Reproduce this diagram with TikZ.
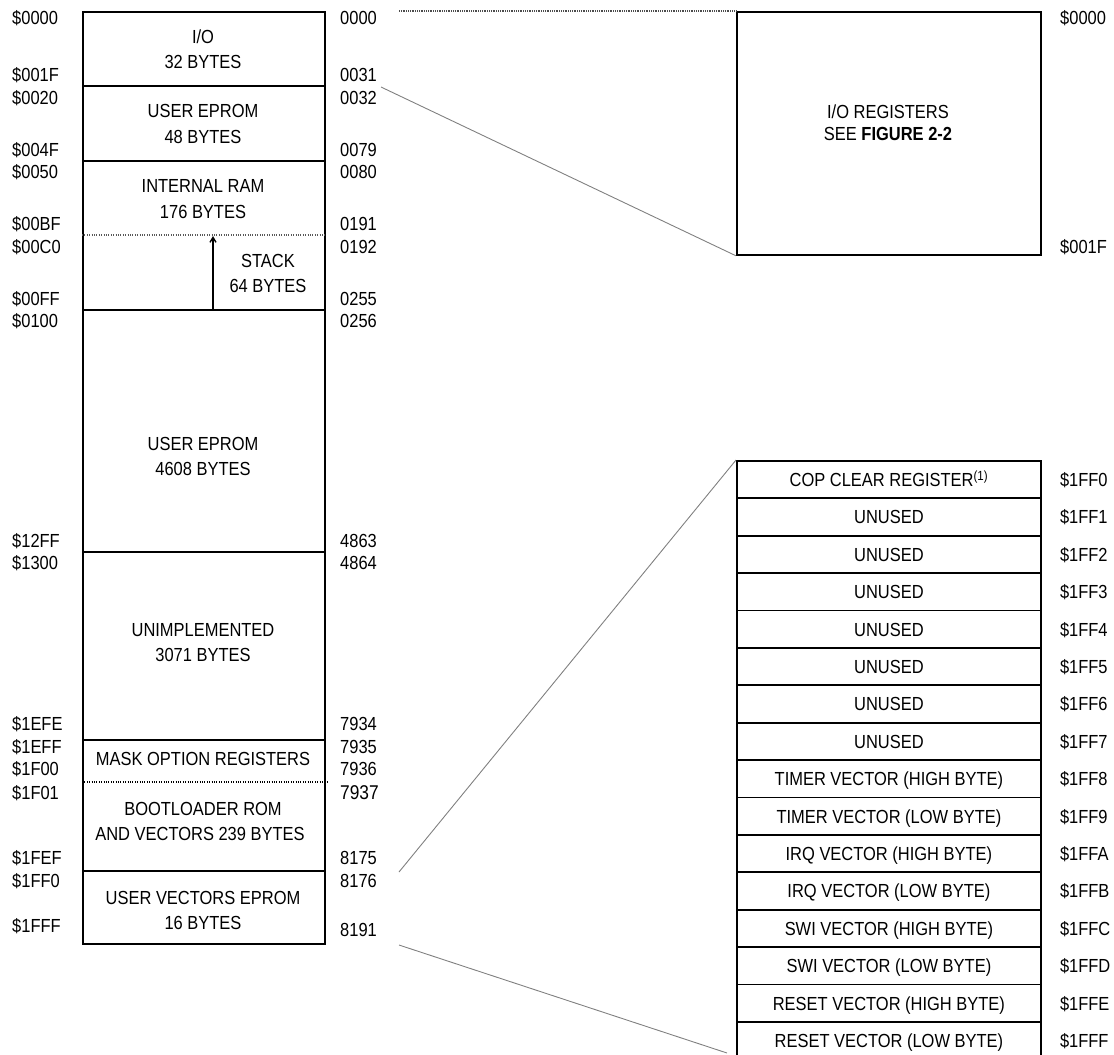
\documentclass[tikz,border=0pt]{standalone}
\usepackage{fontspec}
\setmainfont{Liberation Sans}[FakeStretch=0.87]
\usetikzlibrary{arrows.meta}
\begin{document}
\begin{tikzpicture}[x=1bp,y=-1bp,
  txt/.style={font=\fontsize{19}{22}\selectfont, inner sep=0pt, text height=13.6bp, text depth=0bp, anchor=center},
  lbl/.style={txt, anchor=west},
  frame/.style={draw=black, line width=1.8bp, inner sep=0pt, minimum width=#1, anchor=north west},
  divider/.style={draw=black, line width=1.8bp},
  dotdiv/.style={draw=gray!70!black, line width=1.6bp, dash pattern=on 1bp off 1.4bp},
  zoomline/.style={draw=gray, line width=0.9bp},
  rowbox/.style={draw=black, line width=1.8bp, inner sep=0pt, minimum width=304bp, minimum height=37.4bp, anchor=north west}
]
\useasboundingbox (0,0) rectangle (1114,1055);

% ---------------- left memory map ----------------
\node[frame=242bp, minimum height=932bp] (mem) at (82,11) {};
\foreach \yy in {86,161,310,552,740,871}
  \draw[divider] (mem.west |- 0,\yy) -- (mem.east |- 0,\yy);
\draw[dotdiv] (mem.west |- 0,235) -- (mem.east |- 0,235);
\draw[dotdiv, draw=black] (mem.west |- 0,782) -- ([xshift=2bp]mem.east |- 0,782);

% stack arrow
\coordinate (stackbase) at (213,310);
\coordinate (stacktop) at (213,236);
\draw[line width=1.4bp, -{Straight Barb[length=5bp,width=6bp]}] (stackbase) -- (stacktop);

% region texts
\node[txt] (t1) at (203,37) {I/O};
\node[txt] (t2) at (203,62) {32 BYTES};
\node[txt] (t3) at (203,111) {USER EPROM};
\node[txt] (t4) at (203,137) {48 BYTES};
\node[txt] (t5) at (203,186) {INTERNAL RAM};
\node[txt] (t6) at (203,212) {176 BYTES};
\node[txt] (t7) at (268,261) {STACK};
\node[txt] (t8) at (268,286) {64 BYTES};
\node[txt] (t9) at (203,444) {USER EPROM};
\node[txt] (t10) at (203,469) {4608 BYTES};
\node[txt] (t11) at (203,630) {UNIMPLEMENTED};
\node[txt] (t12) at (203,655) {3071 BYTES};
\node[txt] (t13) at (203,759) {MASK OPTION REGISTERS};
\node[txt] (t14) at (203,809) {BOOTLOADER ROM};
\node[txt] (t15) at (200,834) {AND VECTORS 239 BYTES};
\node[txt] (t16) at (203,898) {USER VECTORS EPROM};
\node[txt] (t17) at (203,923) {16 BYTES};

% left hex labels
\foreach \lab/\yy in {{\$0000}/18,{\$001F}/75,{\$0020}/98,{\$004F}/150,{\$0050}/172,{\$00BF}/224,{\$00C0}/247,{\$00FF}/299,{\$0100}/321,{\$12FF}/541,{\$1300}/563,{\$1EFE}/724,{\$1EFF}/747,{\$1F00}/769,{\$1F01}/793,{\$1FEF}/858,{\$1FF0}/881,{\$1FFF}/926}
  \node[lbl] at (12,\yy) {\lab};
% right decimal labels
\foreach \lab/\yy in {0000/18,0031/75,0032/98,0079/150,0080/172,0191/224,0192/247,0255/299,0256/321,4863/541,4864/563,7934/724,7935/747,7936/769,8175/858,8176/881,8191/930}
  \node[lbl] at (340,\yy) {\lab};
\node[lbl, font=\fontsize{20}{22}\selectfont] at (340,793) {7937};

% ---------------- I/O registers box ----------------
\node[frame=304bp, minimum height=243bp] (iobox) at (736,11) {};
\node[txt] (io1) at (888,112) {I/O REGISTERS};
\node[txt] (io2) at (888,134) {SEE \textbf{FIGURE 2-2}};
\node[lbl] at (1060,18) {\$0000};
\node[lbl] at (1060,247) {\$001F};

\coordinate (ioA) at (399,11);
\coordinate (ioB) at (381,87);
\draw[draw=gray!60!black, line width=2.2bp, dash pattern=on 1bp off 0.8bp] (ioA) -- (iobox.north west);
\draw[zoomline] (ioB) -- (iobox.south west);

% ---------------- vector table ----------------
\foreach \i/\txtv/\addr in {0/{COP CLEAR REGISTER\textsuperscript{(1)}}/1FF0,
  1/UNUSED/1FF1, 2/UNUSED/1FF2, 3/UNUSED/1FF3, 4/UNUSED/1FF4, 5/UNUSED/1FF5, 6/UNUSED/1FF6, 7/UNUSED/1FF7,
  8/{TIMER VECTOR (HIGH BYTE)}/1FF8, 9/{TIMER VECTOR (LOW BYTE)}/1FF9,
  10/{IRQ VECTOR (HIGH BYTE)}/1FFA, 11/{IRQ VECTOR (LOW BYTE)}/1FFB,
  12/{SWI VECTOR (HIGH BYTE)}/1FFC, 13/{SWI VECTOR (LOW BYTE)}/1FFD,
  14/{RESET VECTOR (HIGH BYTE)}/1FFE, 15/{RESET VECTOR (LOW BYTE)}/1FFF}
{
  \node[rowbox] (r\i) at (736,{460+37.4*\i}) {};
  \node[txt] at (r\i.center) {\txtv};
  \node[lbl] at ([xshift=18bp]r\i.east) {\$\addr};
}

\coordinate (vA) at (399,872);
\coordinate (vB) at (399,945);
\draw[zoomline] (vA) -- (r0.north west);
\draw[zoomline] (vB) -- (727,1053);
\end{tikzpicture}
\end{document}
